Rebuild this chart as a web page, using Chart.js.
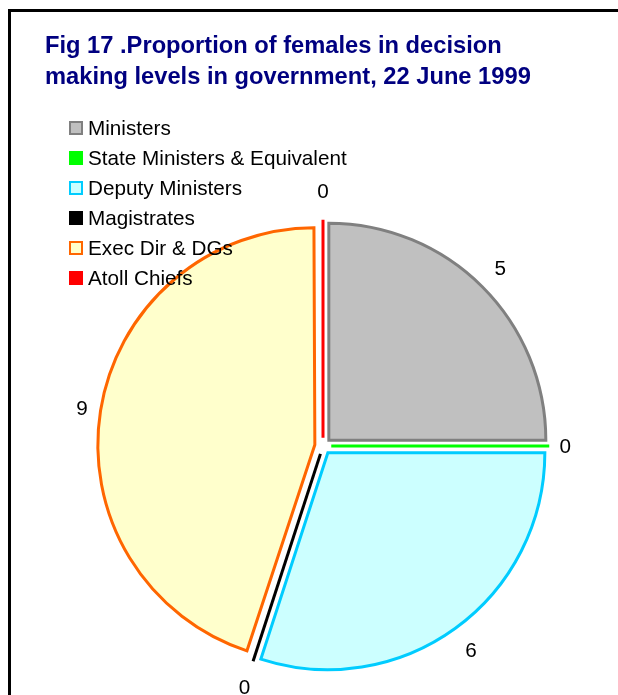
<!DOCTYPE html>
<html>
<head>
<meta charset="utf-8">
<script src="https://cdn.jsdelivr.net/npm/chart.js@4/dist/chart.umd.min.js"></script>
<style>
  html, body { margin: 0; padding: 0; background: #fff; }
  #wrap { position: relative; width: 618px; height: 695px; overflow: hidden; }
  #frame { position: absolute; left: 8px; top: 9px; right: -10px; bottom: -10px;
           border-left: 3px solid #000; border-top: 3px solid #000; }
  #title { position: absolute; left: 45px; top: 30px; font: bold 23.7px "Liberation Sans", Arial, sans-serif;
           line-height: 31px; color: #000080; white-space: nowrap; }
  #legend { position: absolute; left: 69px; top: 113px; font: 20.7px "Liberation Sans", Arial, sans-serif;
            color: #000; }
  #legend .row { height: 30px; display: flex; align-items: center; white-space: nowrap; }
  #legend .box { width: 14px; height: 14px; box-sizing: border-box; border: 2.5px solid; margin-right: 5px; }
  #chartBox { position: absolute; left: 0; top: 0; width: 618px; height: 695px; }
</style>
</head>
<body>
<div id="wrap">
  <div id="chartBox"><canvas id="pieChart"></canvas></div>
  <div id="frame"></div>
  <div id="title">Fig 17 .Proportion of females in decision<br>making levels in government, 22 June 1999</div>
  <div id="legend"></div>
</div>
<script>
const categories = ['Ministers', 'State Ministers & Equivalent', 'Deputy Ministers', 'Magistrates', 'Exec Dir & DGs', 'Atoll Chiefs'];
const females = [5, 0, 6, 0, 9, 0];
const fillColors = ['#c0c0c0', '#00ff00', '#ccffff', '#000000', '#ffffcc', '#ff0000'];
const lineColors = ['#808080', '#00ff00', '#00ccff', '#000000', '#ff6600', '#ff0000'];

const PIE_RADIUS = 217;
const SLICE_OFFSET = 33;   // chart.js moves each slice by offset / 4

// legend built from the same arrays
const legend = document.getElementById('legend');
categories.forEach((name, i) => {
  const row = document.createElement('div');
  row.className = 'row';
  const box = document.createElement('span');
  box.className = 'box';
  box.style.background = fillColors[i];
  box.style.borderColor = lineColors[i];
  row.appendChild(box);
  row.appendChild(document.createTextNode(name));
  legend.appendChild(row);
});

// chart.js grows wide exploded slices a little; keep every slice the same size
const evenRadius = {
  id: 'evenRadius',
  beforeDatasetsDraw(chart) {
    const off = SLICE_OFFSET / 4;
    chart.getDatasetMeta(0).data.forEach(arc => {
      const fix = 1 - Math.sin(Math.min(Math.PI, arc.circumference || 0));
      arc.outerRadius = PIE_RADIUS - off * fix;
    });
  }
};

// zero-valued slices get no arc, so draw them as a single spoke
const zeroSpokes = {
  id: 'zeroSpokes',
  afterDatasetsDraw(chart) {
    const ctx = chart.ctx;
    const meta = chart.getDatasetMeta(0);
    const vals = chart.data.datasets[0].data;
    meta.data.forEach((arc, i) => {
      if (vals[i] !== 0) return;
      const a = arc.startAngle;
      const off = SLICE_OFFSET / 4;
      const cx = Math.cos(a), cy = Math.sin(a);
      ctx.save();
      ctx.strokeStyle = lineColors[i];
      ctx.lineWidth = 3;
      ctx.beginPath();
      ctx.moveTo(arc.x + cx * off, arc.y + cy * off);
      ctx.lineTo(arc.x + cx * (off + PIE_RADIUS + 1), arc.y + cy * (off + PIE_RADIUS + 1));
      ctx.stroke();
      ctx.restore();
    });
  }
};

// value labels outside each slice
const sliceLabels = {
  id: 'sliceLabels',
  afterDatasetsDraw(chart) {
    const ctx = chart.ctx;
    const meta = chart.getDatasetMeta(0);
    const vals = chart.data.datasets[0].data;
    ctx.save();
    ctx.font = '20.7px "Liberation Sans", Arial, sans-serif';
    ctx.fillStyle = '#000';
    ctx.textAlign = 'center';
    ctx.textBaseline = 'middle';
    meta.data.forEach((arc, i) => {
      const a = (arc.startAngle + arc.endAngle) / 2;
      const d = SLICE_OFFSET / 4 + PIE_RADIUS + 17 + 12 * Math.abs(Math.sin(a));
      ctx.fillText(String(vals[i]), arc.x + Math.cos(a) * d, arc.y + Math.sin(a) * d + 1);
    });
    ctx.restore();
  }
};

new Chart(document.getElementById('pieChart'), {
  type: 'pie',
  data: {
    labels: categories,
    datasets: [{
      data: females,
      backgroundColor: fillColors,
      borderColor: lineColors,
      borderWidth: 3,
      borderJoinStyle: 'miter',
      offset: SLICE_OFFSET,
      radius: PIE_RADIUS,
      clip: false
    }]
  },
  options: {
    responsive: true,
    maintainAspectRatio: false,
    animation: false,
    events: [],
    layout: { padding: { left: 28, right: 0, top: 197, bottom: 0 } },
    plugins: {
      legend: { display: false },
      title: { display: false },
      tooltip: { enabled: false }
    }
  },
  plugins: [evenRadius, zeroSpokes, sliceLabels]
});
</script>
</body>
</html>
